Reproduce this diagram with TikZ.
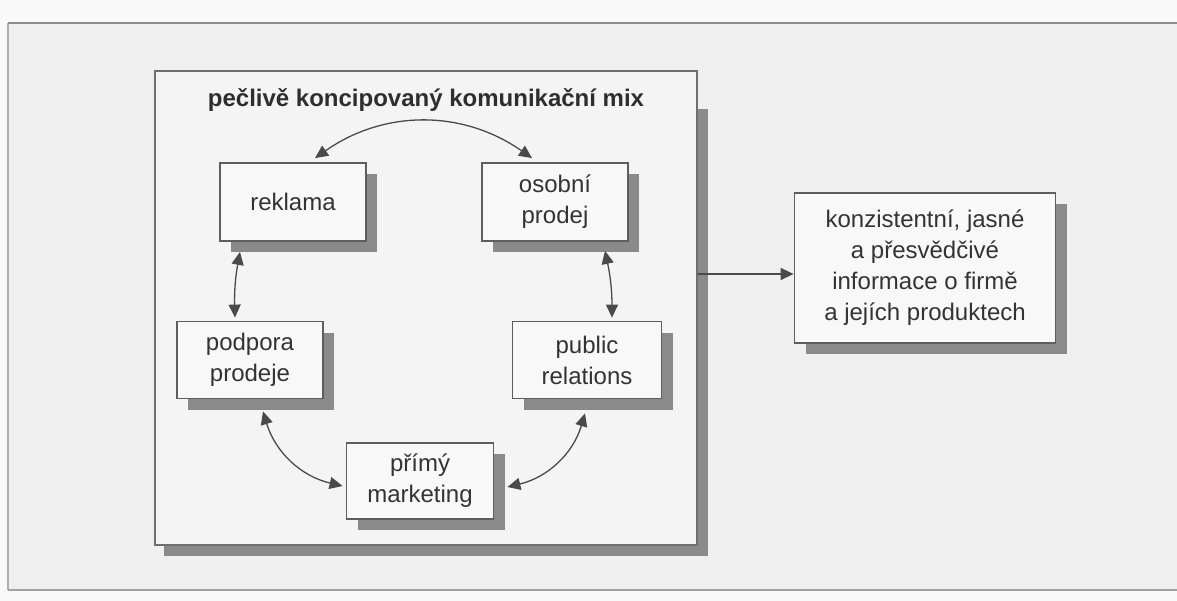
\documentclass[tikz,border=0pt]{standalone}
\usepackage{fontspec}
\setmainfont{Liberation Sans}
\usetikzlibrary{arrows.meta,shadows,backgrounds,calc}
\definecolor{pagewhite}{HTML}{F9F9F9}
\definecolor{pagebg}{HTML}{EFEFEF}
\definecolor{boxfill}{HTML}{F8F8F8}
\definecolor{mainfill}{HTML}{F4F4F4}
\definecolor{shadowc}{HTML}{8A8A8A}
\definecolor{linec}{HTML}{4A4A4A}
\definecolor{boxline}{HTML}{5E5E5E}
\definecolor{textc}{HTML}{333333}
\definecolor{framec}{HTML}{8C8C8C}
\begin{document}
\begin{tikzpicture}[x=1pt,y=-1pt,
  box/.style={draw=boxline, line width=1.8pt, fill=boxfill, text=textc, align=center,
    font=\fontsize{24}{31}\selectfont, inner sep=0pt,
    drop shadow={shadow xshift=11pt, shadow yshift=-11pt, fill=shadowc, opacity=1}},
  mainbox/.style={draw=boxline!90, line width=1.5pt, fill=mainfill, inner sep=0pt},
  conn/.style={draw=linec, line width=1.3pt,
    {Triangle[length=13pt,width=12pt]}-{Triangle[length=13pt,width=12pt]}},
  oneway/.style={draw=linec, line width=1.3pt, -{Triangle[length=13pt,width=12pt]}},
]
\useasboundingbox (0,0) rectangle (1177,601);
\begin{scope}[on background layer]
  \fill[pagewhite] (0,0) rectangle (1177,601);
  \fill[pagebg] (8,23) rectangle (1177,590);
  \draw[framec!70, line width=1.5pt] (8,23) -- (8,590);
  \draw[framec!80, line width=1.5pt] (8,590) -- (1177,590);
  \draw[framec, line width=2pt] (8,23) -- (1177,23);
\end{scope}

\node[mainbox, minimum width=542pt, minimum height=474pt] (main) at (426,308) {};
\begin{scope}[on background layer]
  \fill[shadowc] ([xshift=10pt,yshift=-39pt]main.north west) rectangle ([xshift=10pt,yshift=-10pt]main.south east);
\end{scope}

\node[text=textc!90!black, font=\fontsize{24}{30}\selectfont\bfseries] (title) at (426,100) {pečlivě koncipovaný komunikační mix};

\node[box, minimum width=146pt, minimum height=78pt] (rek) at (293,202) {reklama};
\node[box, minimum width=146pt, minimum height=78pt] (oso) at (555,202) {osobní\\prodej};
\node[box, minimum width=146pt, minimum height=77pt] (pod) at (250,360) {podpora\\prodeje};
\node[box, minimum width=149pt, minimum height=77pt] (pub) at (587,360) {public\\relations};
\node[box, minimum width=147pt, minimum height=76pt] (pri) at (420,481) {přímý\\marketing};
\node[box, minimum width=261pt, minimum height=150pt] (info) at (925,268)
  {konzistentní, jasné\\a přesvědčivé\\informace o firmě\\a jejích produktech};

\draw[conn] ([xshift=22pt,yshift=4pt]rek.north) to[bend left=35] ([xshift=-23pt,yshift=4pt]oso.north);
\draw[conn] ([xshift=-53pt,yshift=-10pt]rek.south) to[bend right=6] ([xshift=-15pt,yshift=3pt]pod.north);
\draw[conn] ([xshift=50pt,yshift=-9pt]oso.south) to[bend left=6] ([xshift=25pt,yshift=3pt]pub.north);
\draw[conn] ([xshift=13pt,yshift=-12pt]pod.south) to[bend right=30] ([xshift=-3pt,yshift=-5pt]pri.west);
\draw[conn] ([xshift=-2pt,yshift=-14pt]pub.south) to[bend left=30] ([xshift=13pt,yshift=-6pt]pri.east);

\coordinate (ay) at ([yshift=-6pt]info.west);
\draw[oneway] (ay -| main.east) -- (ay);
\end{tikzpicture}
\end{document}
